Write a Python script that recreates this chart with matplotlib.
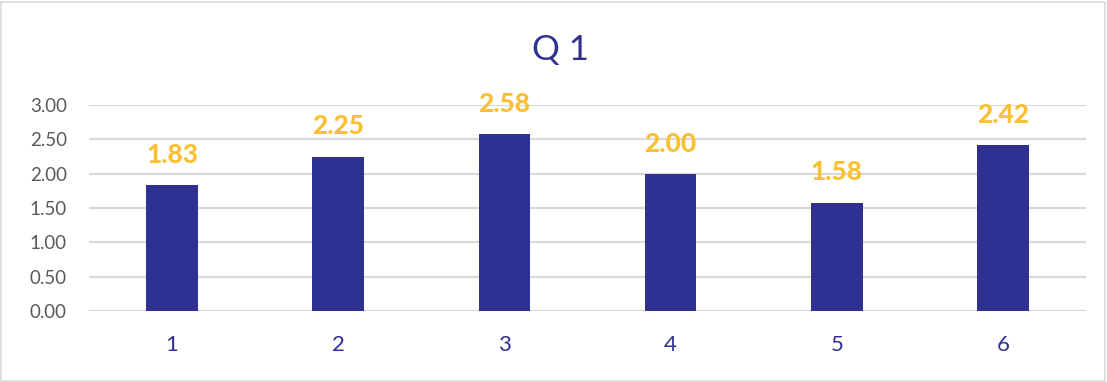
import matplotlib
matplotlib.use("Agg")
import matplotlib.pyplot as plt
from matplotlib.patches import Rectangle

categories = ["1", "2", "3", "4", "5", "6"]
values = [1.83, 2.25, 2.58, 2.00, 1.58, 2.42]
y_ticks = [0.0, 0.5, 1.0, 1.5, 2.0, 2.5, 3.0]
title = "Q 1"

navy = "#2E3192"
gold = "#F9C033"
grid_gray = "#D9D9D9"
tick_gray = "#595959"

plt.rcParams["font.family"] = ["Lato", "DejaVu Sans"]

fig = plt.figure(figsize=(11.07, 3.82), dpi=100)
ax = fig.add_axes([89 / 1107, 1 - 311 / 382, (1086 - 89) / 1107, (311 - 105) / 382])

x = list(range(len(categories)))
bars = ax.bar(x, values, width=0.31, color=navy, zorder=3)
ax.bar_label(bars, labels=[f"{v:.2f}" for v in values], padding=13,
             color=gold, fontsize=19, fontweight="black")

ax.set_xlim(-0.5, len(categories) - 0.5)
ax.set_ylim(0, 3.0)
ax.set_yticks(y_ticks)
ax.set_yticklabels([f"{t:.2f}" for t in y_ticks])
ax.set_xticks(x)
ax.set_xticklabels(categories)
ax.yaxis.grid(True, color=grid_gray, linewidth=1.6, zorder=0)
ax.set_axisbelow(True)
for s in ax.spines.values():
    s.set_visible(False)
ax.tick_params(axis="y", length=0, pad=16, labelsize=13.5, labelcolor=tick_gray)
ax.tick_params(axis="x", length=0, pad=17, labelsize=16, labelcolor=navy)

fig.text(561 / 1107, 1 - 50 / 382, title, ha="center", va="center",
         fontsize=25, color=navy)

fig.patches.append(Rectangle((1 / 1107, 1 / 382), 1104 / 1107, 379 / 382,
                             transform=fig.transFigure, fill=False,
                             edgecolor="#D9D9D9", linewidth=1.2))

fig.savefig("out.png", dpi=100, facecolor="white")
